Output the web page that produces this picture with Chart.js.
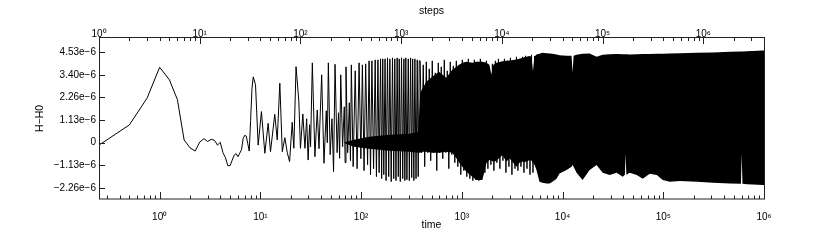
<!DOCTYPE html>
<html>
<head>
<meta charset="utf-8">
<script src="https://cdn.jsdelivr.net/npm/chart.js@4/dist/chart.umd.min.js"></script>
<style>
  html, body { margin: 0; padding: 0; background: #fff; }
  canvas { display: block; }
</style>
</head>
<body>
<canvas id="grafico" width="830" height="249"></canvas>
<script>
// axis ticks
var timeTicks = [1, 10, 100, 1e3, 1e4, 1e5, 1e6];
var timeTickLabels = ['10⁰', '10¹', '10²', '10³', '10⁴', '10⁵', '10⁶'];
var stepTicks = [1, 10, 100, 1e3, 1e4, 1e5, 1e6];
var stepTickLabels = ['10⁰', '10¹', '10²', '10³', '10⁴', '10⁵', '10⁶'];
var yTicks = [-2.265e-6, -1.1325e-6, 0, 1.1325e-6, 2.265e-6, 3.3975e-6, 4.53e-6];
var yTickLabels = ['−2.26e−6', '−1.13e−6', '0', '1.13e−6', '2.26e−6', '3.40e−6', '4.53e−6'];

// H-H0 (units of 1e-6) against time: resolved part of the curve, peaks and troughs
var lineTime = [0.25, 0.5, 0.75, 1.0, 1.25, 1.5, 1.75, 2.0, 2.25, 2.5, 2.75, 3.0, 3.25, 3.5, 3.75, 4.0,
  4.25, 4.5, 4.75, 5.0, 5.25, 5.5, 5.75, 6.0, 6.25, 6.5, 6.75, 7.0, 7.25, 7.5, 7.75, 8.0, 8.25, 8.5,
  8.95, 9.51, 10.25, 11.07, 11.95, 12.6, 13.9, 14.7, 15.6, 16.5, 17.5, 18.5, 19.5, 20.7, 21.5, 22.6,
  24.1, 25.0, 26.4, 27.7, 28.8, 29.8, 30.8, 31.5, 32.8, 34.8, 36.7, 38.2, 40.6, 42.8, 45.1, 46.2,
  47.3, 49.3, 51.4, 53.3, 55.1, 57.8, 59.7, 61.2, 62.8, 65.5, 68.1, 69.4, 70.8, 73.6, 76.4, 78.4,
  80.0, 83.4, 87.4, 91.3, 95.5, 99.5, 103, 107, 111, 116, 120, 124, 128, 133, 138, 142, 147, 151,
  156, 160, 164, 168, 173, 177, 183, 188, 193, 199, 205, 211, 216, 222, 228, 234, 239, 245, 252,
  259, 266, 272, 278, 285, 294, 301, 310, 318, 325, 334, 342, 351, 361, 369, 378,
  386, 400, 414, 428, 444, 459, 475, 491, 509, 526, 545, 564, 584, 604, 625, 647, 670, 693, 717,
  743, 768, 795, 823, 852, 882, 913, 944, 977, 1012, 1047, 1083, 1121, 1161, 1201, 1243, 1287,
  1332, 1378, 1427, 1476, 1528, 1581, 1637, 1694, 1753, 1815, 1878, 1944, 2012, 2082, 2154, 2230,
  2308, 2388, 2472, 2559, 2648, 2741, 2836, 2936, 3038, 3144, 3254, 3369, 3486, 3608, 3734, 3865,
  4000, 4140, 4284, 4435, 4589, 4750, 4916, 5088, 5265];
var lineH = [-0.12, 0.89, 2.23, 3.78, 3.15, 2.16, 0.14, -0.25, -0.42, 0.03, 0.2, 0.06, 0.17, 0.12, -0.12, 0.02,
  -0.5, -0.75, -1.15, -1.15, -0.88, -0.62, -0.55, -0.7, -0.52, -0.35, 0.22, 0.37, 0.33, -0.05, -0.42, 1.1, 2.7, 3.3,
  2.9, -0.12, 1.56, -0.53, 0.97, -0.45, 1.42, 0.14, 2.98, -0.45, 0.25, -0.5, -0.95, 1.02, -0.28, 3.81,
  2.06, -0.28, 1.44, -0.28, 1.2, -0.87, 0.9, -0.2, 4.0, -0.7, 1.64, -0.3, 3.4, -1.03, 1.6, 0.0,
  4.0, -0.6, 1.2, -1.45, 3.93, -0.5, 1.5, -0.78, 3.4, -0.2, 1.8, -1.0, 3.8, -0.5, 2.0, -0.9,
  3.9, -1.2, 3.6, -1.3, 4.0, -0.8, 3.9, -1.4, 3.95, -1.1, 4.1, -1.6, 4.1, -1.3, 4.15, -1.7, 4.15, -1.5,
  4.2, -1.8, 4.2, -1.6, 4.2, -1.9, 4.25, -1.7, 4.2, -1.95, 4.25, -1.8, 4.2, -1.9, 4.25, -1.7, 4.2, -1.95, 4.25,
  -1.8, 4.2, -1.9, 4.25, -1.85, 4.2, -1.9, 4.25, -1.75, 4.2, -1.9, 4.2, -1.8, 4.15, -1.7, 4.1,
  4.1, -0.5, 3.9, -1.2, 4.05, -0.5, 3.7, -0.9, 4.1, -0.5, 3.5, -1.4, 4.0, -0.5, 3.8, -0.8, 4.15, -0.5, 3.6,
  -1.3, 4.05, -0.6, 3.85, -1.0, 4.1, -1.2, 3.9, -1.6, 4.15, -1.4, 4.0, -1.7, 4.2, -1.8, 3.95, -1.9,
  4.15, -1.85, 4.05, -1.9, 4.2, -1.7, 3.9, -1.5, 4.1, -1.3, 3.6, -1.1, 3.95, -1.4, 4.1, -1.0,
  4.2, -1.3, 4.0, -0.9, 4.2, -1.5, 4.1, -1.2, 4.25, -1.6, 4.1, -1.3, 4.3, -1.4, 4.2, -1.2,
  4.3, -1.5, 4.35, -1.3, 4.3, -1.6, 4.4, -1.5, 4.35];

// unresolved oscillation: upper and lower envelope (units of 1e-6)
var bandTime = [68, 85, 120, 190, 300, 369, 386, 406, 444, 509, 594, 700, 804, 882, 944, 1012, 1109,
  1272, 1394, 1600, 1753, 1878, 1966, 2058, 2204, 2529, 2773, 2969, 3486, 3734, 4000, 4385, 4700,
  4916, 5088, 5265, 5510, 5902, 6324, 6930, 7426, 7953, 8716, 9333, 10960, 12290, 12580, 12870,
  13780, 15810, 18570, 21800, 25000, 29360, 34450, 39540, 41600, 42270, 43000, 46420, 54500,
  62500, 73400, 86150, 98860, 116100, 145900, 215400, 310900, 458900, 590200, 600000, 611000,
  677000, 977000, 1000000];
var bandTop = [0.02, 0.15, 0.3, 0.4, 0.45, 0.55, 2.5, 2.7, 3.05, 3.3, 3.55, 3.25, 3.65, 3.8, 3.9, 4.0, 4.05,
  4.0, 4.05, 4.05, 4.0, 3.9, 3.41, 3.9, 4.0, 4.08, 4.1, 4.12, 4.17, 4.2, 4.25, 4.3, 4.34,
  4.3, 3.58, 4.3, 4.42, 4.45, 4.5, 4.48, 4.47, 4.45, 4.42, 4.38, 4.35, 4.35, 3.5, 4.35,
  4.4, 4.45, 4.47, 4.3, 4.4, 4.43, 4.44, 4.43, 4.43, 4.43, 4.43, 4.42, 4.43,
  4.44, 4.44, 4.45, 4.45, 4.47, 4.48, 4.5, 4.52, 4.55, 4.57, 4.57, 4.57,
  4.58, 4.62, 4.62];
var bandBottom = [-0.02, -0.2, -0.3, -0.4, -0.45, -0.5, -0.5, -0.45, -0.45, -0.5, -0.5, -0.45, -0.5, -0.78, -1.0, -1.2, -1.46,
  -1.71, -1.87, -1.87, -1.03, -0.87, -0.9, -0.95, -0.9, -0.62, -0.95, -0.78, -1.2, -1.0, -0.95, -0.95, -0.87,
  -0.9, -1.0, -1.1, -1.37, -1.96, -2.0, -2.04, -2.04, -1.96, -1.8, -1.54, -1.37, -1.2, -1.12, -1.2,
  -1.5, -1.87, -1.37, -1.12, -1.5, -1.62, -1.5, -1.7, -1.6, -0.55, -1.6, -1.5, -1.62,
  -1.8, -1.55, -1.62, -1.87, -1.96, -1.92, -1.96, -2.0, -2.04, -2.06, -0.57, -2.06,
  -2.08, -2.12, -2.12];

function pontos(tempos, valores) {
  return tempos.map(function (t, i) { return { x: t, y: valores[i] * 1e-6 }; });
}

// frame and inward IDL-style tick marks
var moldura = {
  id: 'moldura',
  afterDraw: function (chart) {
    var ctx = chart.ctx, a = chart.chartArea;
    var sx = chart.scales.x, sx2 = chart.scales.x2, sy = chart.scales.y;
    function marcas(s) {
      var out = [];
      for (var k = Math.floor(Math.log10(s.min)); k <= Math.ceil(Math.log10(s.max)); k++) {
        for (var m = 1; m <= 9; m++) {
          var v = m * Math.pow(10, k);
          if (v >= s.min * 0.999 && v <= s.max * 1.001) out.push([v, m === 1]);
        }
      }
      return out;
    }
    ctx.save();
    ctx.strokeStyle = '#222';
    ctx.lineWidth = 1;
    ctx.strokeRect(a.left + 0.5, a.top - 0.5, a.right - a.left, a.bottom - a.top + 0.5);
    ctx.beginPath();
    marcas(sx).forEach(function (d) {
      var p = Math.round(sx.getPixelForValue(d[0])) + 0.5;
      ctx.moveTo(p, a.bottom); ctx.lineTo(p, a.bottom - (d[1] ? 7 : 3.5));
    });
    marcas(sx2).forEach(function (d) {
      var p = Math.round(sx2.getPixelForValue(d[0])) + 0.5;
      ctx.moveTo(p, a.top); ctx.lineTo(p, a.top + (d[1] ? 6 : 3));
    });
    yTicks.forEach(function (v) {
      var p = Math.round(sy.getPixelForValue(v)) + 0.5;
      ctx.moveTo(a.left, p); ctx.lineTo(a.left + 6, p);
    });
    ctx.stroke();
    ctx.restore();
  }
};

var fonte = { family: "'Liberation Sans', Arial, sans-serif", size: 10 };
var fonteTitulo = { family: "'Liberation Sans', Arial, sans-serif", size: 10.5 };

var ctx = document.getElementById('grafico').getContext('2d');
var chart = new Chart(ctx, {
  type: 'line',
  data: {
    datasets: [{
      data: pontos(bandTime, bandTop),
      borderWidth: 0,
      backgroundColor: '#000',
      fill: '+1',
      pointRadius: 0
    }, {
      data: pontos(bandTime, bandBottom),
      borderWidth: 0,
      fill: false,
      pointRadius: 0
    }, {
      data: pontos(lineTime, lineH),
      borderColor: '#000',
      borderWidth: 1,
      fill: false,
      pointRadius: 0
    }]
  },
  options: {
    responsive: false,
    animation: false,
    layout: { padding: { left: 0, right: 66, top: 0, bottom: 0 } },
    plugins: { legend: { display: false }, tooltip: { enabled: false } },
    scales: {
      x: {
        type: 'logarithmic', position: 'bottom', min: 0.25, max: 1e6,
        grid: { display: false, drawTicks: false }, border: { display: false },
        afterBuildTicks: function (s) { s.ticks = timeTicks.map(function (v) { return { value: v }; }); },
        afterFit: function (s) { s.height = 50; },
        ticks: {
          autoSkip: false, maxRotation: 0, padding: 12, color: '#000', font: fonte,
          callback: function (v) { return timeTickLabels[timeTicks.indexOf(v)]; }
        },
        title: { display: true, text: 'time', color: '#000', font: fonteTitulo, padding: { top: 0, bottom: 18 } }
      },
      x2: {
        type: 'logarithmic', position: 'top', min: 1, max: 4e6,
        grid: { display: false, drawTicks: false }, border: { display: false },
        afterBuildTicks: function (s) { s.ticks = stepTicks.map(function (v) { return { value: v }; }); },
        afterFit: function (s) { s.height = 38; },
        ticks: {
          autoSkip: false, maxRotation: 0, padding: -2, color: '#000', font: fonte,
          callback: function (v) { return stepTickLabels[stepTicks.indexOf(v)]; }
        },
        title: { display: true, text: 'steps', color: '#000', font: fonteTitulo, padding: { top: 5, bottom: 0 } }
      },
      y: {
        min: -2.82e-6, max: 5.245e-6,
        grid: { display: false, drawTicks: false }, border: { display: false },
        afterBuildTicks: function (s) { s.ticks = yTicks.map(function (v) { return { value: v }; }); },
        afterFit: function (s) { s.width = 99; },
        ticks: {
          autoSkip: false, padding: 3, color: '#000', font: fonte,
          callback: function (v, i) { return yTickLabels[i]; }
        },
        title: { display: true, text: 'H−H0', color: '#000', font: fonteTitulo, padding: { top: 34, bottom: 0 } }
      }
    }
  },
  plugins: [moldura]
});
</script>
</body>
</html>
